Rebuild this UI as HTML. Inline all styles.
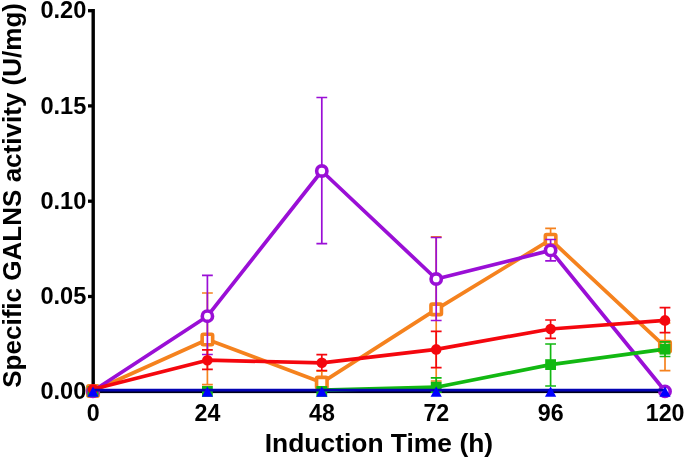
<!DOCTYPE html>
<html lang="en">
<head>
<meta charset="utf-8">
<title>Specific GALNS activity vs Induction Time</title>
<style>
html,body{margin:0;padding:0;background:#fff;}
body{width:685px;height:459px;overflow:hidden;font-family:"Liberation Sans",Arial,sans-serif;}
svg{display:block;}
</style>
</head>
<body>
<svg width="685" height="459" viewBox="0 0 685 459">
<rect width="685" height="459" fill="#fff"/>
<g fill="#000">
<rect x="91.5" y="9.0" width="3.4" height="384.4"/>
<rect x="91.5" y="390.0" width="575.2" height="3.1" fill="#000018"/>
<rect x="88" y="9.05" width="4" height="3.3"/>
<rect x="88" y="104.25" width="4" height="3.3"/>
<rect x="88" y="199.55" width="4" height="3.3"/>
<rect x="88" y="294.85" width="4" height="3.3"/>
<rect x="88" y="390.05" width="4" height="3.3"/>
</g>
<path d="M207.4 293.0V384.6M202.0 293.0h10.8M202.0 384.6h10.8" stroke="#f5821e" stroke-width="1.7" fill="none"/>
<path d="M321.8 371.1V390.6M316.4 371.1h10.8M316.4 390.6h10.8" stroke="#f5821e" stroke-width="1.7" fill="none"/>
<path d="M436.2 236.8V381.0M430.8 236.8h10.8M430.8 381.0h10.8" stroke="#f5821e" stroke-width="1.7" fill="none"/>
<path d="M550.6 228.4V251.0M545.2 228.4h10.8M545.2 251.0h10.8" stroke="#f5821e" stroke-width="1.7" fill="none"/>
<path d="M665.0 323.0V370.7M659.6 323.0h10.8M659.6 370.7h10.8" stroke="#f5821e" stroke-width="1.7" fill="none"/>
<polyline points="93.0,391.0 207.4,339.5 321.8,382.6 436.2,309.4 550.6,239.7 665.0,346.7" fill="none" stroke="#f5821e" stroke-width="3.7" stroke-linejoin="round" stroke-linecap="round"/>
<rect x="87.75" y="385.75" width="10.5" height="10.5" rx="1.2" fill="#fff" stroke="#f5821e" stroke-width="3.6" stroke-linejoin="round"/>
<rect x="202.15" y="334.25" width="10.5" height="10.5" rx="1.2" fill="#fff" stroke="#f5821e" stroke-width="3.6" stroke-linejoin="round"/>
<rect x="316.55" y="377.35" width="10.5" height="10.5" rx="1.2" fill="#fff" stroke="#f5821e" stroke-width="3.6" stroke-linejoin="round"/>
<rect x="430.95" y="304.15" width="10.5" height="10.5" rx="1.2" fill="#fff" stroke="#f5821e" stroke-width="3.6" stroke-linejoin="round"/>
<rect x="545.35" y="234.45" width="10.5" height="10.5" rx="1.2" fill="#fff" stroke="#f5821e" stroke-width="3.6" stroke-linejoin="round"/>
<rect x="659.75" y="341.45" width="10.5" height="10.5" rx="1.2" fill="#fff" stroke="#f5821e" stroke-width="3.6" stroke-linejoin="round"/>
<path d="M207.4 275.4V354.5M202.0 275.4h10.8M202.0 354.5h10.8" stroke="#9a0fd6" stroke-width="1.7" fill="none"/>
<path d="M321.8 97.5V243.6M316.4 97.5h10.8M316.4 243.6h10.8" stroke="#9a0fd6" stroke-width="1.7" fill="none"/>
<path d="M436.2 237.5V320.5M430.8 237.5h10.8M430.8 320.5h10.8" stroke="#9a0fd6" stroke-width="1.7" fill="none"/>
<path d="M550.6 239.5V260.9M545.2 239.5h10.8M545.2 260.9h10.8" stroke="#9a0fd6" stroke-width="1.7" fill="none"/>
<polyline points="93.0,391.0 207.4,316.2 321.8,171.0 436.2,279.0 550.6,250.4 665.0,391.0" fill="none" stroke="#9a0fd6" stroke-width="3.7" stroke-linejoin="round" stroke-linecap="round"/>
<circle cx="93.0" cy="391.4" r="5.15" fill="#fff" stroke="#9a0fd6" stroke-width="3.6"/>
<circle cx="207.4" cy="316.2" r="5.15" fill="#fff" stroke="#9a0fd6" stroke-width="3.6"/>
<circle cx="321.8" cy="171.0" r="5.15" fill="#fff" stroke="#9a0fd6" stroke-width="3.6"/>
<circle cx="436.2" cy="279.0" r="5.15" fill="#fff" stroke="#9a0fd6" stroke-width="3.6"/>
<circle cx="550.6" cy="250.4" r="5.15" fill="#fff" stroke="#9a0fd6" stroke-width="3.6"/>
<circle cx="665.0" cy="391.4" r="5.15" fill="#fff" stroke="#9a0fd6" stroke-width="3.6"/>
<path d="M436.2 377.9V392.2M430.8 377.9h10.8M430.8 392.2h10.8" stroke="#12b812" stroke-width="1.7" fill="none"/>
<path d="M550.6 344.0V386.0M545.2 344.0h10.8M545.2 386.0h10.8" stroke="#12b812" stroke-width="1.7" fill="none"/>
<path d="M665.0 341.9V356.5M659.6 341.9h10.8M659.6 356.5h10.8" stroke="#12b812" stroke-width="1.7" fill="none"/>
<polyline points="321.8,390.1 436.2,387.2 550.6,364.6 665.0,349.2" fill="none" stroke="#12b812" stroke-width="3.7" stroke-linejoin="round" stroke-linecap="round"/>
<rect x="87.6" y="386.0" width="10.8" height="10.8" fill="#12b812"/>
<rect x="202.0" y="386.0" width="10.8" height="10.8" fill="#12b812"/>
<rect x="316.4" y="386.0" width="10.8" height="10.8" fill="#12b812"/>
<rect x="430.8" y="381.8" width="10.8" height="10.8" fill="#12b812"/>
<rect x="545.2" y="359.2" width="10.8" height="10.8" fill="#12b812"/>
<rect x="659.6" y="343.8" width="10.8" height="10.8" fill="#12b812"/>
<path d="M207.4 349.8V369.4M202.0 349.8h10.8M202.0 369.4h10.8" stroke="#f4070e" stroke-width="1.7" fill="none"/>
<path d="M321.8 354.7V370.5M316.4 354.7h10.8M316.4 370.5h10.8" stroke="#f4070e" stroke-width="1.7" fill="none"/>
<path d="M436.2 331.4V367.6M430.8 331.4h10.8M430.8 367.6h10.8" stroke="#f4070e" stroke-width="1.7" fill="none"/>
<path d="M550.6 320.0V338.4M545.2 320.0h10.8M545.2 338.4h10.8" stroke="#f4070e" stroke-width="1.7" fill="none"/>
<path d="M665.0 307.6V332.6M659.6 307.6h10.8M659.6 332.6h10.8" stroke="#f4070e" stroke-width="1.7" fill="none"/>
<polyline points="93.0,389.3 207.4,360.2 321.8,362.8 436.2,349.4 550.6,329.0 665.0,320.4" fill="none" stroke="#f4070e" stroke-width="3.7" stroke-linejoin="round" stroke-linecap="round"/>
<circle cx="93.0" cy="389.3" r="5.3" fill="#f4070e"/>
<circle cx="207.4" cy="360.2" r="5.3" fill="#f4070e"/>
<circle cx="321.8" cy="362.8" r="5.3" fill="#f4070e"/>
<circle cx="436.2" cy="349.4" r="5.3" fill="#f4070e"/>
<circle cx="550.6" cy="329.0" r="5.3" fill="#f4070e"/>
<circle cx="665.0" cy="320.4" r="5.3" fill="#f4070e"/>
<path d="M93 390.1H665" stroke="#0404b4" stroke-width="2.8" fill="none"/>
<path d="M93.0 386.4L98.6 396.8H87.4Z" fill="#0000ff"/>
<path d="M207.4 386.4L213.0 396.8H201.8Z" fill="#0000ff"/>
<path d="M321.8 386.4L327.4 396.8H316.2Z" fill="#0000ff"/>
<path d="M436.2 386.4L441.8 396.8H430.6Z" fill="#0000ff"/>
<path d="M550.6 386.4L556.2 396.8H545.0Z" fill="#0000ff"/>
<path d="M665.0 386.4L670.6 396.8H659.4Z" fill="#0000ff"/>
<g font-family="'Liberation Sans', Arial, Helvetica, sans-serif" font-weight="700" fill="#000">
<g font-size="24px" text-anchor="end">
<text transform="translate(86.4 18.3) scale(0.985 1)">0.20</text>
<text transform="translate(86.4 114.4) scale(0.985 1)">0.15</text>
<text transform="translate(86.4 208.9) scale(0.985 1)">0.10</text>
<text transform="translate(86.4 304.3) scale(0.985 1)">0.05</text>
<text transform="translate(86.4 399.0) scale(0.985 1)">0.00</text>
</g>
<g font-size="24px" text-anchor="middle">
<text transform="translate(93.1 420.7) scale(0.968 1)">0</text>
<text transform="translate(207.5 420.7) scale(0.968 1)">24</text>
<text transform="translate(321.9 420.7) scale(0.968 1)">48</text>
<text transform="translate(436.3 420.7) scale(0.968 1)">72</text>
<text transform="translate(550.7 420.7) scale(0.968 1)">96</text>
<text transform="translate(665.1 420.7) scale(0.968 1)">120</text>
</g>
<text font-size="26.5px" text-anchor="middle" transform="translate(378.9 452.0) scale(0.997 1)">Induction Time (h)</text>
<text font-size="26.5px" text-anchor="middle" transform="translate(21.3 195.4) rotate(-90) scale(0.983 1)">Specific GALNS activity (U/mg)</text>
</g>
</svg>
</body>
</html>
